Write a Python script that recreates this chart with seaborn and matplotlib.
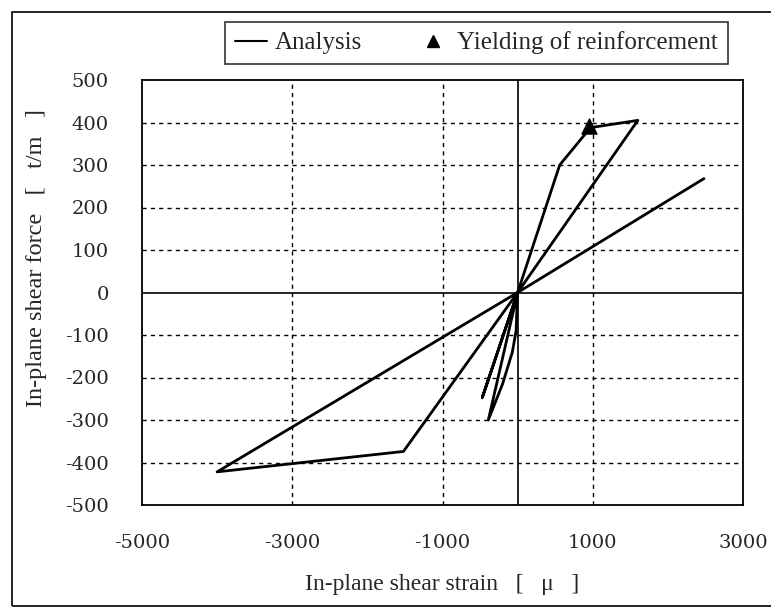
import pandas as pd
import seaborn as sns
import matplotlib.pyplot as plt
from matplotlib.lines import Line2D

# hysteresis path (strain in micro, force in t/m)
strain = [0, -470, 0, -390, -200, -70, -20, -10, 0, 560, 970, 1600, 0, -1520, -4000, 0, 2480]
force = [0, -247, 0, -300, -215, -140, -90, -40, 0, 300, 388, 405, 0, -374, -422, 0, 268]

# yielding of reinforcement
yield_strain = [950]
yield_force = [392]

x_ticks = [-5000, -3000, -1000, 1000, 3000]
y_ticks = list(range(-500, 501, 100))

curve = pd.DataFrame({'strain': strain, 'force': force})
yield_pt = pd.DataFrame({'strain': yield_strain, 'force': yield_force})

sns.set_style('white')
plt.rcParams['font.family'] = ['Liberation Serif', 'DejaVu Serif']
plt.rcParams['axes.unicode_minus'] = False

fig = plt.figure(figsize=(7.71, 6.12), dpi=100)
ax = fig.add_axes([142 / 771, 1 - 505 / 612, 601 / 771, 425 / 612])

# dashed grid, solid zero axes
for xv in x_ticks[1:-1]:
    ax.axvline(xv, color='black', lw=1, ls=(0, (3, 3)), zorder=1)
for yv in y_ticks[1:-1]:
    if yv != 0:
        ax.axhline(yv, color='black', lw=1, ls=(0, (3, 3)), zorder=1)
ax.axhline(0, color='black', lw=1.2, zorder=1)
ax.axvline(0, color='black', lw=1.2, zorder=1)

sns.lineplot(data=curve, x='strain', y='force', sort=False, estimator=None,
             color='black', lw=2, ax=ax, zorder=3)
sns.scatterplot(data=yield_pt, x='strain', y='force', marker='^', s=120,
                color='black', edgecolor='black', ax=ax, zorder=4)

ax.set_xlim(-5000, 3000)
ax.set_ylim(-500, 500)
ax.set_xticks(x_ticks)
ax.set_yticks(y_ticks)
ax.tick_params(axis='both', length=0)
ax.tick_params(axis='x', pad=21)
ax.tick_params(axis='y', pad=24)
for lab in ax.get_xticklabels() + ax.get_yticklabels():
    lab.set_family('DejaVu Serif')
    lab.set_fontsize(14)
for s in ax.spines.values():
    s.set_color('black')
    s.set_linewidth(1.3)

ax.set_xlabel('In-plane shear strain   [   μ   ]', fontsize=17, labelpad=16)
ax.set_ylabel('In-plane shear force   [   t/m   ]', fontsize=17.5)
ax.yaxis.set_label_coords(-0.158, 0.58)

handles = [Line2D([], [], color='black', lw=1.5),
           Line2D([], [], color='black', marker='^', ls='none', markersize=9)]
leg = fig.legend(handles, ['Analysis', 'Yielding of reinforcement'], ncol=2,
                 loc='center', bbox_to_anchor=(476 / 771, 1 - 43 / 612),
                 fontsize=18, frameon=True, fancybox=False, edgecolor='black',
                 handlelength=1.3, handletextpad=0.3, columnspacing=2.2,
                 borderpad=0.4, borderaxespad=0)
leg.get_frame().set_linewidth(1.2)

# outer frame of the figure
fig.patches.append(plt.Rectangle((12 / 771, 6 / 612), 1.0, 1 - 18 / 612,
                                 transform=fig.transFigure, fill=False,
                                 edgecolor='black', lw=1.2))

fig.savefig('out.png', dpi=100)
